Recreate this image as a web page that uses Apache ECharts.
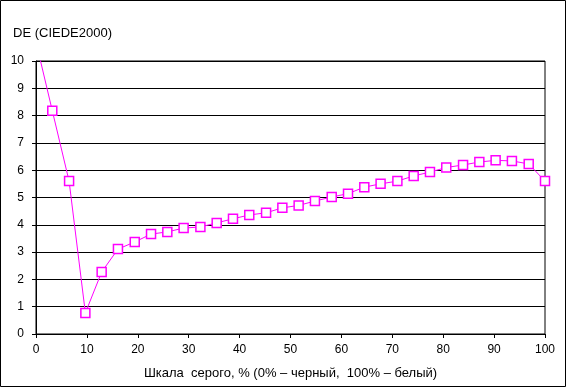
<!DOCTYPE html>
<html><head><meta charset="utf-8">
<script src="https://cdn.jsdelivr.net/npm/echarts@6/dist/echarts.min.js"></script>
<style>html,body{margin:0;padding:0;background:#fff}#c{width:566px;height:387px}</style>
</head><body><div id="c"></div>
<script>
const grayPct = [0, 3.2, 6.5, 9.7, 12.9, 16.1, 19.4, 22.6, 25.8, 29.0, 32.3, 35.5, 38.7, 41.9, 45.2, 48.4, 51.6, 54.8, 58.1, 61.3, 64.5, 67.7, 71.0, 74.2, 77.4, 80.6, 83.9, 87.1, 90.3, 93.5, 96.8, 100];
const deValues = [10.7, 8.18, 5.6, 0.77, 2.27, 3.11, 3.37, 3.66, 3.74, 3.88, 3.92, 4.07, 4.22, 4.36, 4.44, 4.62, 4.71, 4.87, 5.02, 5.14, 5.38, 5.5, 5.6, 5.79, 5.93, 6.1, 6.19, 6.3, 6.36, 6.34, 6.23, 5.6];
const yTitle = 'DE (CIEDE2000)';
const xTitle = 'Шкала  серого, % (0% – черный,  100% – белый)';

const font = 'Arial, "Liberation Sans", sans-serif';
const chart = echarts.init(document.getElementById('c'));
chart.setOption({
  animation: false,
  backgroundColor: '#fff',
  title: { text: yTitle, left: 8, top: 22, textStyle: { fontFamily: font, fontSize: 13, fontWeight: 'normal', color: '#000' } },
  grid: { left: 36, right: 21, top: 61, bottom: 53, show: true, borderColor: '#000', borderWidth: 1, backgroundColor: 'transparent' },
  graphic: [{ type: 'rect', shape: { x: 0.5, y: 0.5, width: 565, height: 386 }, style: { fill: 'none', stroke: '#000', lineWidth: 1 } }],
  xAxis: {
    type: 'value', min: 0, max: 100, interval: 10,
    name: xTitle, nameLocation: 'middle', nameGap: 33,
    nameTextStyle: { fontFamily: font, fontSize: 13, color: '#000' },
    axisLine: { show: true, lineStyle: { color: '#000', width: 1 } },
    axisTick: { show: true, length: 4, lineStyle: { color: '#000' } },
    axisLabel: { fontFamily: font, fontSize: 12, color: '#000', margin: 10 },
    splitLine: { show: false }
  },
  yAxis: {
    type: 'value', min: 0, max: 10, interval: 1,
    axisLine: { show: true, lineStyle: { color: '#000', width: 1 } },
    axisTick: { show: true, length: 4, lineStyle: { color: '#000' } },
    axisLabel: { fontFamily: font, fontSize: 12, color: '#000', margin: 12 },
    splitLine: { show: true, lineStyle: { color: '#000', width: 1 } }
  },
  series: [{
    type: 'line',
    data: grayPct.map((x, i) => [x, deValues[i]]),
    clip: true,
    symbol: 'rect', symbolSize: 9,
    lineStyle: { color: '#ff00ff', width: 1 },
    itemStyle: { color: '#fff', borderColor: '#ff00ff', borderWidth: 1.5 }
  }]
});
</script></body></html>
